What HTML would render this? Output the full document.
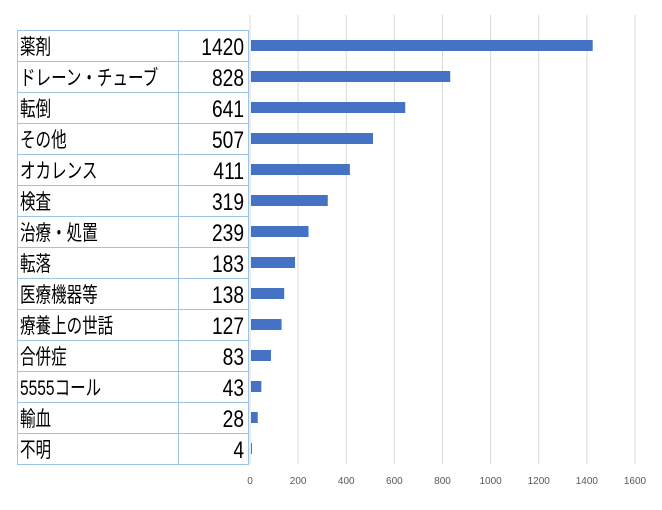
<!DOCTYPE html>
<html><head><meta charset="utf-8"><style>
body{margin:0;background:#fff;}
svg{display:block;font-family:"Liberation Sans","Noto Sans CJK JP",sans-serif;}
</style></head><body>
<svg id="c" width="662" height="510" viewBox="0 0 662 510"></svg>
<script>
const categories=["薬剤","ドレーン・チューブ","転倒","その他","オカレンス","検査","治療・処置","転落","医療機器等","療養上の世話","合併症","5555コール","輸血","不明"];
const values=[1420,828,641,507,411,319,239,183,138,127,83,43,28,4];
const ticks=[0,200,400,600,800,1000,1200,1400,1600];
const svgEl=document.getElementById('c');
const NS='http://www.w3.org/2000/svg';
const x0=250,x1=635,maxV=1600,topY=30,rowH=31;
const xs=v=>x0+(x1-x0)*v/maxV;
function mk(t,a){const e=document.createElementNS(NS,t);for(const k in a)e.setAttribute(k,a[k]);svgEl.appendChild(e);return e;}
ticks.forEach(t=>{
 const g=mk('line',{x1:xs(t),x2:xs(t),y1:15,y2:464,stroke:'#d9d9d9','stroke-width':1});
 
 
 const tx=mk('text',{x:xs(t),y:484,'font-size':10,fill:'#595959','text-anchor':'middle'});
 tx.textContent=t;
 
 
});
categories.forEach((c,i)=>{
 const y=topY+i*rowH;
 const r=mk('rect',{x:17.5,y:y+0.5,width:161,height:rowH,fill:'none',stroke:'#9dc3e6'});
 
 
 const r2=mk('rect',{x:178.5,y:y+0.5,width:70,height:rowH,fill:'none',stroke:'#9dc3e6'});
 
 
 const l=mk('text',{transform:`translate(20,${y+24}) scale(0.74,1)`,'font-size':21,fill:'#000'});
 l.textContent=c;
 
 
 const v=mk('text',{transform:`translate(244,${y+25}) scale(0.8,1)`,'font-size':24,fill:'#000','text-anchor':'end'});
 v.textContent=values[i];
 
 
 const b=mk('rect',{x:x0+1,y:y+10,width:Math.max(0,xs(values[i])-x0),height:11,fill:'#4472c4'});
 
 
});
</script>
</body></html>
